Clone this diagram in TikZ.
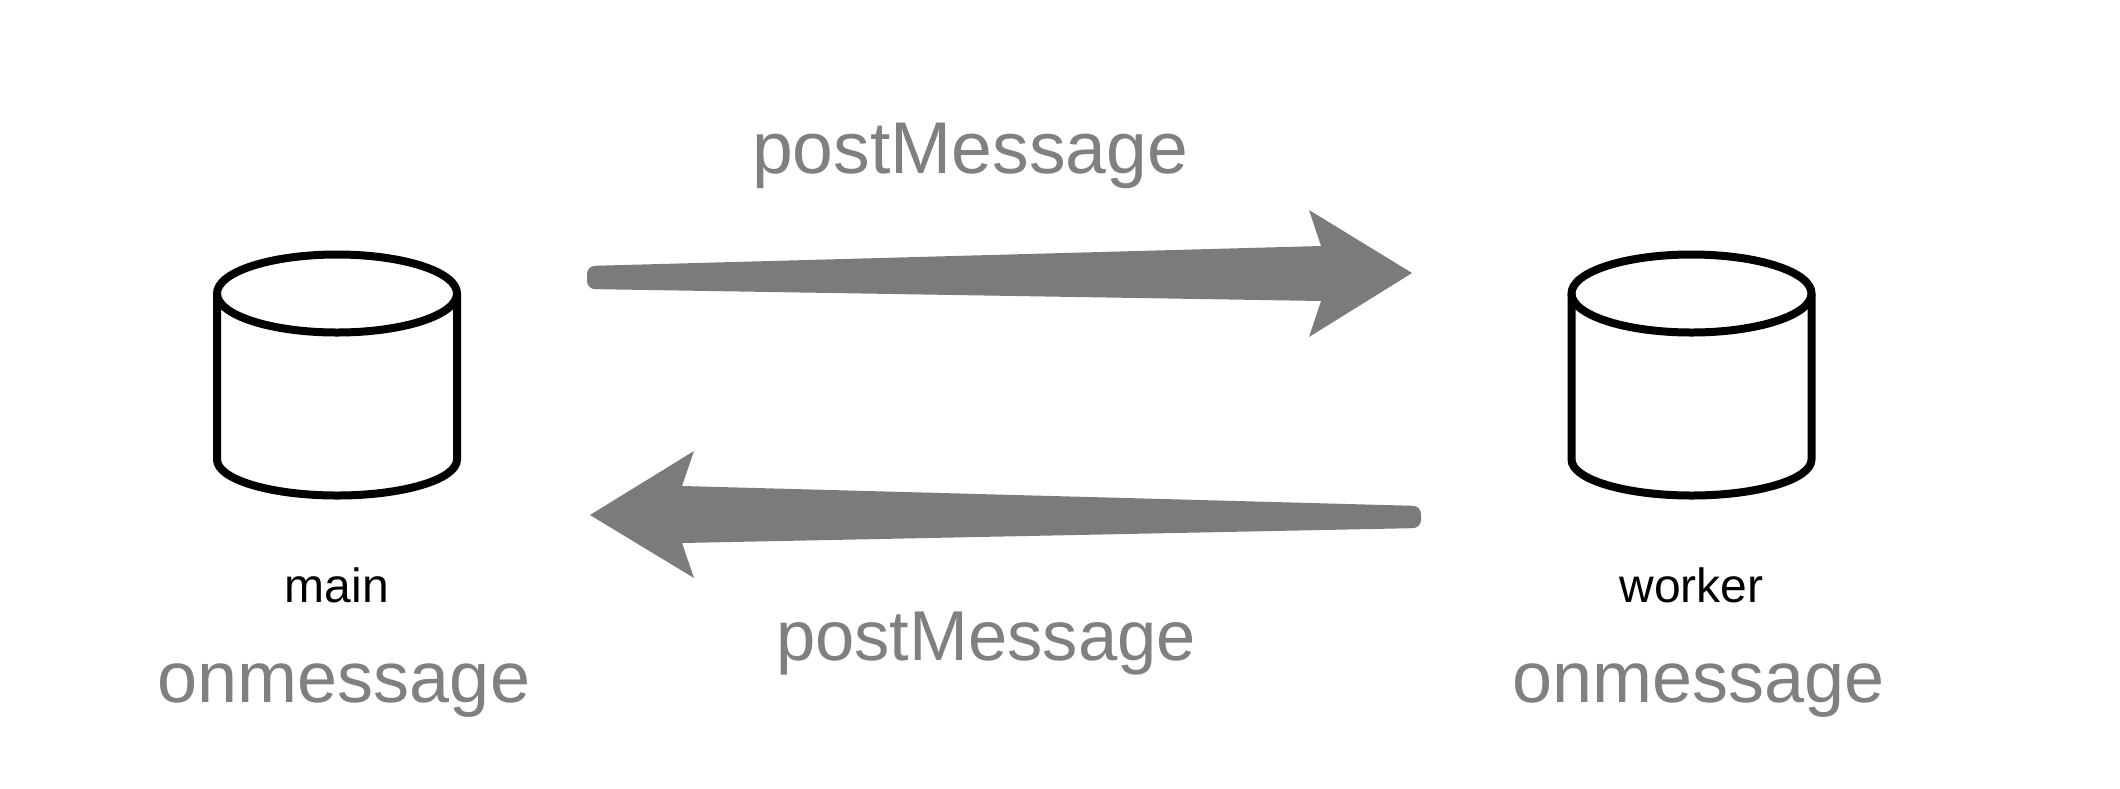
\documentclass[tikz,border=0pt]{standalone}
\usepackage{fontspec}
\setmainfont{Liberation Sans}
\usepackage{xcolor}
\usetikzlibrary{positioning, calc}
\definecolor{msggray}{HTML}{7B7B7B}
\definecolor{labelgray}{HTML}{808080}

\begin{document}
\begin{tikzpicture}[
        x=1pt, y=-1pt,
        store/.style={minimum width=240pt, minimum height=241pt, inner sep=0pt, outer sep=0pt},
        store line/.style={draw=black, line width=8pt},
        name label/.style={font=\fontsize{48}{48}\selectfont, text=black, inner sep=0pt},
        msg label/.style={font=\fontsize{72}{72}\selectfont, text=labelgray, inner sep=0pt},
        msg arrow/.style={fill=msggray}
    ]
    \useasboundingbox (0,0) rectangle (2120,788);

    % Nodes
    \node[store] (main) at (337,375) {};
    \node[store, right=1114.5pt of main] (worker) {};

    \node[name label, below=107pt of main, anchor=base] (mainname) {main};
    \node[name label, below=107pt of worker, anchor=base] (workername) {worker};

    \node[msg label, below=207pt of main, anchor=base, xshift=7pt] (mainrecv) {onmessage};
    \node[msg label, below=207pt of worker, anchor=base, xshift=7pt] (workerrecv) {onmessage};

    \node[msg label, anchor=base, font=\fontsize{73.3}{73.3}\selectfont] (sendlabel) at (970,173) {postMessage};
    \node[msg label, anchor=base, font=\fontsize{70.6}{70.6}\selectfont] (replylabel) at (986,660) {postMessage};

    % Cylinders
    \foreach \store in {main, worker} {
        \draw[store line] ($(\store.north)+(0,39)$) ellipse [x radius=120pt, y radius=39pt];
        \draw[store line] ($(\store.north west)+(0,39)$) -- ($(\store.south west)+(0,-36)$)
            arc [start angle=180, end angle=360, x radius=120pt, y radius=36pt]
            -- ($(\store.north east)+(0,39)$);
    }

    % Arrows
    \coordinate (sendtail) at (587,277.5);
    \coordinate (sendtip) at (1412,273);
    \fill[msg arrow] (sendtip) -- ++(-103,-63) -- ++(12,36)
        [rounded corners=8pt] -- ($(sendtail)+(0,-11.5)$) -- ($(sendtail)+(0,11.5)$)
        [sharp corners] -- (1321,301) -- (1309,337) -- cycle;

    \coordinate (replytail) at (1421,517);
    \coordinate (replytip) at (590,515);
    \fill[msg arrow] (replytip) -- ++(104,-64) -- ++(-12,35)
        [rounded corners=8pt] -- ($(replytail)+(0,-11)$) -- ($(replytail)+(0,11)$)
        [sharp corners] -- (682,543) -- (694,578) -- cycle;

\end{tikzpicture}
\end{document}
